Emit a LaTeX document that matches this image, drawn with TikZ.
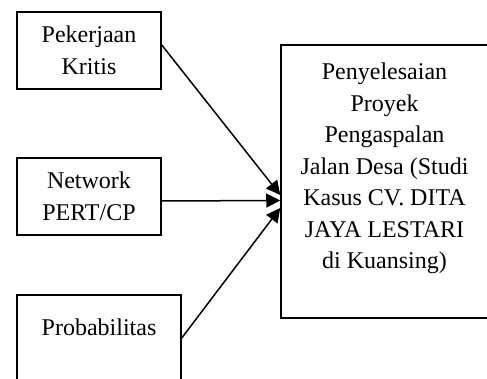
\documentclass[tikz,border=0pt]{standalone}
\usepackage{fontspec}
\setmainfont{Liberation Serif}
\usepackage{tikz}
\usetikzlibrary{arrows.meta,positioning,calc}
\definecolor{ink}{HTML}{000000}
\tikzset{
  every node/.style={font=\fontsize{24}{31.5}\selectfont, text=ink},
  blk/.style={draw=ink, line width=1.5pt, inner sep=0pt, align=center},
  ar/.style ={-{Triangle[length=14pt, width=14pt]}, line width=1.5pt, draw=ink},
}

\begin{document}
\begin{tikzpicture}[x=1pt, y=-1pt]
\useasboundingbox (0,0) rectangle (487,379);

% ---------------- variabel (kiri) -------------------------------------------
\node[blk, minimum width=144pt, minimum height=77pt] (kritis) at (89,50.5)
  {Pekerjaan\\Kritis};
\node[blk, minimum width=144pt, minimum height=77pt] (network) at (89,196.5)
  {Network\\PERT/CP};
\node[blk, minimum width=164pt, minimum height=95pt] (prob) at (99,342.5)
  {Probabilitas\\\mbox{}};

% ---------------- hasil (kanan) ---------------------------------------------
\node[blk, minimum width=207pt, minimum height=273pt] (hasil) at (384.5,181.5)
  {Penyelesaian\\Proyek\\Pengaspalan\\Jalan Desa (Studi\\Kasus CV. DITA\\JAYA LESTARI\\di Kuansing)\\\mbox{}};

% ---------------- panah -----------------------------------------------------
\draw[ar] ([yshift=5.5pt]kritis.east) -- ([yshift=-13.5pt]hasil.west);
\draw[ar] ([yshift=-4.5pt]network.east) -- ([yshift=-19pt]hasil.west);
\draw[ar] ([yshift=4.5pt]prob.east) -- ([yshift=-26.5pt]hasil.west);

\end{tikzpicture}
\end{document}
